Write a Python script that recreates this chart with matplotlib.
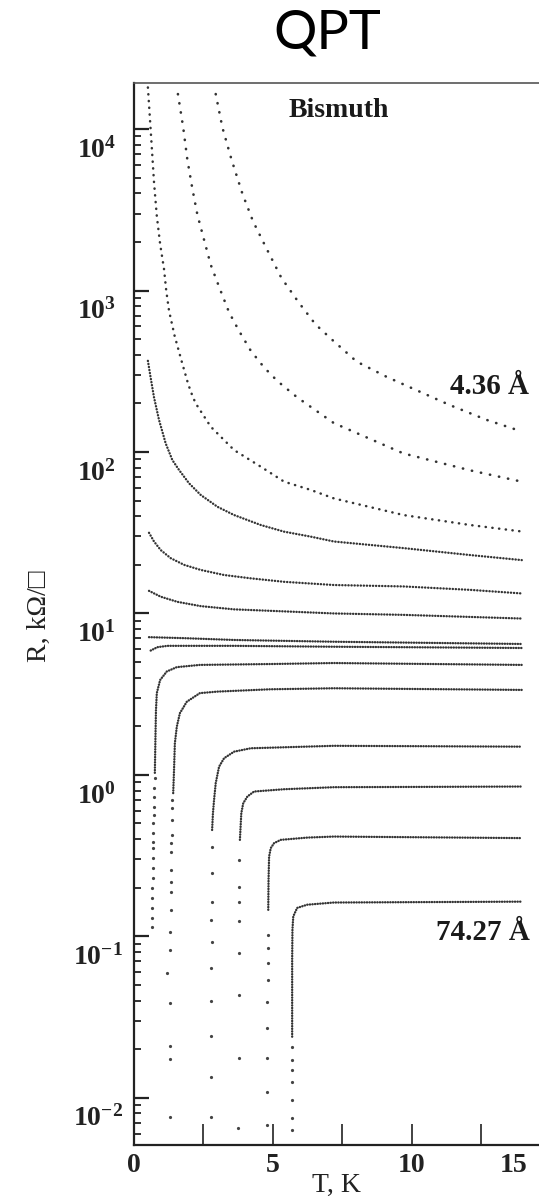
import numpy as np
import matplotlib
matplotlib.use('Agg')
import matplotlib.pyplot as plt
import matplotlib.transforms as mtransforms
from matplotlib.ticker import LogLocator, NullFormatter

# R(T) curves of thin bismuth films
# T in K, R in kOhm per square; curve 1 = 4.36 A (top) ... curve 14 = 74.27 A (bottom)

t1 = [2.94, 3.18, 3.51, 3.90, 4.28, 4.74, 5.30, 5.91, 6.53, 7.16, 8.01, 9.09, 10.29, 11.37, 12.69, 13.95]
r1 = [16480, 10230, 6460, 3980, 2690, 1860, 1200, 851, 617, 490, 363, 292, 236, 195, 158, 134]

t2 = [1.58, 1.77, 1.92, 2.10, 2.28, 2.48, 2.76, 3.09, 3.42, 3.78, 4.20, 4.68, 5.16, 5.87, 7.19, 9.69, 12.09, 13.95]
r2 = [16480, 10230, 6460, 4270, 2950, 2190, 1445, 1023, 733, 562, 424, 334, 275, 218, 151, 98, 77, 65.5]

t3 = [0.50, 0.56, 0.64, 0.72, 0.82, 0.94, 1.08, 1.16, 1.26, 1.46, 1.71, 1.95, 2.10, 2.22, 2.76, 3.60,
      4.56, 5.40, 6.36, 7.19, 9.69, 12.09, 14.0]
r3 = [18110, 12590, 7710, 4680, 2904, 1941, 1358, 998, 750, 525, 367, 263, 223, 200, 143.5, 102.8,
      81.1, 65.5, 58.2, 51.6, 40.7, 35.3, 32.1]

t4 = [0.50, 0.60, 0.72, 0.90, 1.14, 1.38, 1.62, 1.98, 2.40, 3.00, 3.60, 4.56, 5.40, 6.36, 7.19, 9.69, 12.09, 13.95]
r4 = [367, 288, 218, 158, 113, 89.1, 77.4, 64, 54.2, 45.8, 40.7, 35.3, 32.1, 29.9, 27.9, 25.4, 23.0, 21.4]

t5 = [0.54, 0.72, 0.96, 1.32, 1.80, 2.40, 3.24, 4.20, 5.40, 7.19, 9.69, 12.09, 13.95]
r5 = [31.6, 27.9, 24.7, 22.0, 20.0, 18.6, 17.3, 16.5, 15.7, 15.0, 14.7, 14.0, 13.3]

t6 = [0.54, 0.96, 1.56, 2.40, 3.60, 5.40, 7.19, 9.69, 13.95]
r6 = [13.8, 12.7, 11.8, 11.1, 10.6, 10.3, 10.0, 9.8, 9.3]

t7 = [0.54, 1.80, 3.60, 7.19, 13.95]
r7 = [7.13, 7.03, 6.85, 6.68, 6.47]

t8 = [0.60, 0.84, 1.20, 3.60, 7.19, 13.95]
r8 = [5.89, 6.18, 6.30, 6.30, 6.22, 6.11]

t9 = [0.75, 0.77, 0.79, 0.82, 0.94, 1.18, 1.54, 2.37, 4.89, 7.19, 13.95]
r9 = [1.03, 1.65, 2.51, 3.21, 3.87, 4.37, 4.65, 4.80, 4.86, 4.93, 4.80]
t9_drop = [0.74, 0.73, 0.72, 0.72, 0.71, 0.70, 0.70, 0.69, 0.68, 0.68, 0.67, 0.67, 0.66, 0.66, 0.65, 0.65, 0.64]
r9_drop = [0.957, 0.832, 0.731, 0.634, 0.565, 0.505, 0.438, 0.385, 0.353, 0.306, 0.265, 0.230, 0.200, 0.173,
           0.150, 0.130, 0.115]

t10 = [1.41, 1.44, 1.47, 1.54, 1.65, 1.90, 2.37, 3.0, 4.89, 7.19, 13.95]
r10 = [0.771, 1.074, 1.57, 1.99, 2.41, 2.84, 3.21, 3.28, 3.39, 3.44, 3.36]
t10_drop = [1.36, 1.36, 1.35, 1.35, 1.34, 1.34, 1.33, 1.33, 1.32, 1.32, 1.31, 1.31, 1.18, 1.29, 1.29, 1.29, 1.29]
r10_drop = [0.700, 0.625, 0.526, 0.425, 0.379, 0.333, 0.258, 0.217, 0.189, 0.146, 0.107, 0.0824, 0.0594, 0.0387,
            0.0210, 0.0174, 0.0076]

t11 = [2.81, 2.84, 2.88, 2.94, 3.06, 3.24, 3.60, 4.20, 7.19, 13.95]
r11 = [0.456, 0.579, 0.700, 0.889, 1.125, 1.268, 1.393, 1.462, 1.514, 1.496]
t11_drop = [2.80, 2.79, 2.79, 2.78, 2.79, 2.78, 2.77, 2.77, 2.77, 2.77]
r11_drop = [0.360, 0.246, 0.164, 0.126, 0.0929, 0.0635, 0.0399, 0.0242, 0.0135, 0.0076]

t12 = [3.81, 3.86, 3.93, 4.08, 4.32, 5.40, 7.19, 13.95]
r12 = [0.396, 0.579, 0.668, 0.735, 0.789, 0.815, 0.839, 0.847]
t12_drop = [3.78, 3.77, 3.77, 3.77, 3.76, 3.76, 3.76, 3.75]
r12_drop = [0.298, 0.203, 0.164, 0.124, 0.0787, 0.0435, 0.0177, 0.00652]

t13 = [4.83, 4.84, 4.86, 4.92, 5.04, 5.28, 6.24, 7.19, 13.95]
r13 = [0.146, 0.224, 0.312, 0.352, 0.378, 0.396, 0.409, 0.415, 0.406]
t13_drop = [4.82, 4.82, 4.81, 4.81, 4.80, 4.80, 4.80, 4.80, 4.79]
r13_drop = [0.102, 0.0845, 0.0682, 0.0538, 0.0393, 0.0271, 0.0177, 0.0109, 0.00681]

t14 = [5.69, 5.69, 5.69, 5.70, 5.73, 5.87, 6.23, 7.19, 13.95]
r14 = [0.0239, 0.0405, 0.0715, 0.110, 0.133, 0.150, 0.157, 0.162, 0.164]
t14_drop = [5.69, 5.69, 5.69, 5.69, 5.69, 5.69, 5.69]
r14_drop = [0.0207, 0.0172, 0.0149, 0.0126, 0.00973, 0.00752, 0.00634]

curves = [(t1, r1), (t2, r2), (t3, r3), (t4, r4), (t5, r5), (t6, r6), (t7, r7),
          (t8, r8), (t9, r9), (t10, r10), (t11, r11), (t12, r12), (t13, r13), (t14, r14)]
drops = [(t9_drop, r9_drop), (t10_drop, r10_drop), (t11_drop, r11_drop),
         (t12_drop, r12_drop), (t13_drop, r13_drop), (t14_drop, r14_drop)]
# dot width and gap between dots along each curve (gap in line widths)
dot_lw = [1.9, 1.9, 1.8, 1.7, 1.7, 1.7, 1.7, 1.7, 1.7, 1.7, 1.7, 1.7, 1.7, 1.7]
dot_gap = [3.4, 3.4, 2.6, 1.2, 1.2, 1.1, 1.0, 1.0, 1.0, 1.0, 1.0, 1.0, 1.0, 1.0]

y_ticks = [1e-2, 1e-1, 1e0, 1e1, 1e2, 1e3, 1e4]
y_labels = [r'$\mathbf{10^{-2}}$', r'$\mathbf{10^{-1}}$', r'$\mathbf{10^{0}}$', r'$\mathbf{10^{1}}$',
            r'$\mathbf{10^{2}}$', r'$\mathbf{10^{3}}$', r'$\mathbf{10^{4}}$']
x_ticks = [0, 2.5, 5, 7.5, 10, 12.5]
x_labels = ['0', '', '5', '', '10', '']

plt.rcParams['font.family'] = ['Liberation Serif', 'DejaVu Serif', 'DejaVu Sans']
plt.rcParams['font.weight'] = 'bold'
plt.rcParams['mathtext.fontset'] = 'custom'
plt.rcParams['mathtext.rm'] = 'Liberation Serif:bold'
plt.rcParams['mathtext.bf'] = 'Liberation Serif:bold'
plt.rcParams['mathtext.it'] = 'Liberation Serif:bold:italic'

fig = plt.figure(figsize=(5.39, 12.02), dpi=100)
ax = fig.add_axes([134 / 539, 1 - 1145 / 1202, 1 - 134 / 539, (1145 - 83) / 1202])

dot_color = '#333333'
for (t, r), lw, gap in zip(curves, dot_lw, dot_gap):
    ax.plot(t, r, color=dot_color, lw=lw, linestyle=(0, (0.1, gap)),
            dash_capstyle='round', solid_capstyle='round')
for t, r in drops:
    ax.plot(t, r, 'o', color='#444444', markersize=2.3, markeredgewidth=0)

ax.set_yscale('log')
ax.set_xlim(0, 14.57)
ax.set_ylim(5.1e-3, 1.93e4)

ax.set_yticks(y_ticks, labels=y_labels)
ax.yaxis.set_minor_locator(LogLocator(base=10, subs=np.arange(2, 10)))
ax.yaxis.set_minor_formatter(NullFormatter())
ax.set_xticks(x_ticks, labels=x_labels)

ax.tick_params(axis='x', direction='in', length=15, width=1.2, pad=6, labelsize=20, top=False, colors='#222222')
ax.tick_params(axis='y', which='major', direction='in', length=11, width=1.6, pad=13, labelsize=20,
               right=False, colors='#222222')
ax.tick_params(axis='y', which='minor', direction='in', length=5, width=1.3, right=False, colors='#222222')

# the scanned axis puts "15" a bit left of where 15 K would be
ax.text(13.67, -8 / 1062, '15', transform=ax.get_xaxis_transform(), ha='center', va='top',
        fontsize=20, color='#222222')

# nudge y tick labels down (and the negative exponents right) like in the scan
for lab, yt in zip(ax.get_yticklabels(), y_ticks):
    dx = 7 / 100 if yt < 1 else 0
    shift = mtransforms.ScaledTranslation(dx, -18 / 100, fig.dpi_scale_trans)
    lab.set_transform(lab.get_transform() + shift)

for side in ['left', 'bottom']:
    ax.spines[side].set_linewidth(1.6)
    ax.spines[side].set_color('#222222')
ax.spines['top'].set_linewidth(1.2)
ax.spines['top'].set_color('#555555')
ax.spines['right'].set_visible(False)

ax.set_xlabel('T, K', fontsize=20, labelpad=-4, color='#222222')
ax.set_ylabel('R, kΩ/□', fontsize=20, color='#222222')
ax.yaxis.set_label_coords(-0.2346, 0.498)
ax.yaxis.label.set(va='center', rotation_mode='default')

ax.text(7.37, 13120, 'Bismuth', ha='center', va='center', fontsize=20, color='#1a1a1a')
ax.text(12.8, 253, '4.36 Å', ha='center', va='center', fontsize=21, color='#1a1a1a')
ax.text(12.55, 0.105, '74.27 Å', ha='center', va='center', fontsize=21, color='#1a1a1a')

fig.text(327.5 / 539, 1 - 33 / 1202, 'QPT', ha='center', va='center', fontsize=39,
         family='Lato', weight='normal', color='black')

fig.savefig('out.png', dpi=100)
